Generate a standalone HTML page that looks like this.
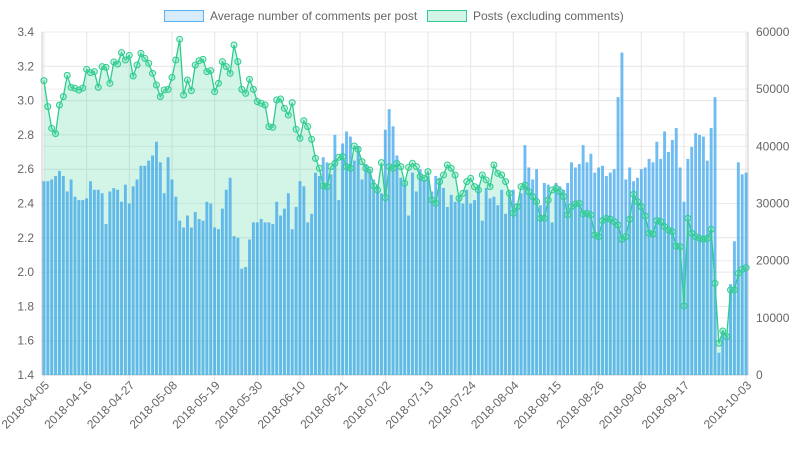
<!DOCTYPE html>
<html><head><meta charset="utf-8"><style>
html,body{margin:0;padding:0;background:#fff;width:798px;height:450px;overflow:hidden}
svg{display:block;font-family:"Liberation Sans",sans-serif}
</style></head><body>
<svg id="chart" width="798" height="450" viewBox="0 0 798 450"></svg>
<script>
const startDate = "2018-04-05";
const avgComments = [2.53,2.53,2.54,2.56,2.59,2.56,2.47,2.54,2.44,2.42,2.42,2.43,2.53,2.48,2.48,2.46,2.28,2.47,2.49,2.48,2.41,2.51,2.40,2.50,2.54,2.62,2.62,2.65,2.68,2.76,2.64,2.46,2.67,2.54,2.44,2.30,2.26,2.33,2.26,2.35,2.31,2.30,2.41,2.40,2.26,2.25,
2.37,2.48,2.55,2.21,2.20,2.02,2.03,2.19,2.29,2.29,2.31,2.29,2.29,2.28,2.41,2.33,2.37,2.46,2.25,2.38,2.53,2.50,2.29,2.34,2.58,2.56,2.67,2.64,2.57,2.80,2.42,2.75,2.82,2.79,2.65,2.73,2.54,2.63,2.60,2.54,2.51,2.46,2.83,2.95,
2.85,2.68,2.55,2.52,2.33,2.58,2.47,2.60,2.54,2.56,2.47,2.56,2.55,2.49,2.38,2.45,2.41,2.44,2.40,2.48,2.40,2.42,2.51,2.30,2.49,2.43,2.44,2.39,2.48,2.34,2.47,2.48,2.40,2.46,2.74,2.61,2.54,2.60,2.39,2.52,2.51,2.29,2.52,2.50,2.48,
2.52,2.64,2.61,2.63,2.74,2.64,2.69,2.58,2.61,2.62,2.56,2.58,2.60,3.02,3.28,2.54,2.61,2.53,2.55,2.60,2.61,2.66,2.64,2.76,2.66,2.82,2.70,2.77,2.84,2.61,2.41,2.66,2.73,2.81,2.80,2.79,2.65,2.84,3.02,1.53,1.66,1.63,1.93,2.18,2.64,2.57,2.58];
const postCounts = [51490,46940,43150,42220,47230,48690,52420,50320,50150,49860,50210,53470,52890,53060,50320,53940,53820,51020,54750,54400,56390,55100,55920,52300,54230,56270,55390,54520,52770,50730,48690,49860,49970,52070,55100,58720,48980,51610,49740,54230,54980,55220,53060,53240,49560,51020,
54810,53940,52770,57730,54810,49970,49270,51720,49970,47820,47530,47230,43440,43330,48110,48280,46650,45480,47640,42980,41400,44490,43440,41230,37900,36160,33070,32950,36450,37030,38080,38200,36450,36160,40060,39480,37320,36160,35860,33070,32370,37150,31030,36450,36160,37000,
36450,33530,36330,37030,36450,34700,34410,35570,30620,30030,33820,34990,36740,36160,34990,30910,31780,33820,34410,32950,32370,34990,34120,32950,36740,35280,34990,33820,31780,28290,29450,32950,33240,32080,31200,30330,27410,27410,30620,32370,32660,32080,31200,
28000,29450,29920,30030,28170,28290,28000,24500,24210,27000,27410,27240,26830,26240,23740,24210,27240,31610,30330,29450,27820,24790,24670,27000,26830,25950,25370,25080,22570,22460,12080,27410,24790,24210,23910,23740,23910,25490,16040,5550,7700,6710,14880,14880,17790,18490,18780];
const leftTicks = [1.4,1.6,1.8,2.0,2.2,2.4,2.6,2.8,3.0,3.2,3.4];
const rightTicks = [0,10000,20000,30000,40000,50000,60000];
const labelIdx = [0,11,22,33,44,55,66,77,88,99,110,121,132,143,154,165];

const svg = document.getElementById('chart');
const NS = 'http://www.w3.org/2000/svg';
const L = 42, R = 748, T = 32, B = 375;
const n = avgComments.length;
const step = (R - L) / n;
const xC = i => L + (i + 0.5) * step;
const yL = v => B - (v - 1.4) / 2.0 * (B - T);
const yR = v => B - v / 60000 * (B - T);
function mk(tag, attrs, parent) {
  const e = document.createElementNS(NS, tag);
  for (const k in attrs) e.setAttribute(k, attrs[k]);
  (parent || svg).appendChild(e);
  return e;
}
function dateLabel(i) {
  const d = new Date(startDate + 'T00:00:00Z');
  d.setUTCDate(d.getUTCDate() + i);
  return d.toISOString().slice(0, 10);
}
const grid = mk('g', {});


leftTicks.forEach(t => mk('line', {x1:L, x2:R, y1:yL(t), y2:yL(t), stroke:'#e6e6e6', 'stroke-width':1}, grid));
rightTicks.forEach(t => mk('line', {x1:L, x2:R, y1:yR(t), y2:yR(t), stroke:'#ececec', 'stroke-width':1}, grid));
const xs = labelIdx.concat([n - 1]);
xs.forEach(i => mk('line', {x1:xC(i), x2:xC(i), y1:T, y2:B + 5, stroke:'#e6e6e6', 'stroke-width':1}, grid));
mk('line', {x1:L, x2:L, y1:T, y2:B, stroke:'#ccc'}, grid);
mk('line', {x1:R, x2:R, y1:T, y2:B, stroke:'#ccc'}, grid);
mk('line', {x1:L, x2:R, y1:B, y2:B, stroke:'#ccc'}, grid);
let d = 'M' + xC(0) + ',' + B;
postCounts.forEach((v, i) => { d += ' L' + xC(i) + ',' + yR(v); });
d += ' L' + xC(n - 1) + ',' + B + ' Z';
const area = mk('path', {d:d, fill:'rgba(75,215,160,0.25)', stroke:'none'});


const bars = mk('g', {});


const bw = step * 0.75;
avgComments.forEach((v, i) => {
  const r = mk('rect', {x:xC(i) - bw / 2, y:yL(v), width:bw, height:B - yL(v), fill:'rgba(54,162,235,0.72)'}, bars);
  
  
});
const lineG = mk('g', {});


mk('polyline', {points:postCounts.map((v, i) => xC(i) + ',' + yR(v)).join(' '), fill:'none', stroke:'#2ecc8e', 'stroke-width':1.3}, lineG);
postCounts.forEach((v, i) => {
  const c = mk('circle', {cx:xC(i), cy:yR(v), r:3, fill:'rgba(75,215,160,0.3)', stroke:'#2ecc8e', 'stroke-width':1}, lineG);
  
  
});
const ax = mk('g', {'font-size':12, fill:'#666'});


leftTicks.forEach(t => { const e = mk('text', {x:L - 8, y:yL(t) + 4, 'text-anchor':'end'}, ax); e.textContent = t.toFixed(1); });
rightTicks.forEach(t => { const e = mk('text', {x:R + 8, y:yR(t) + 4, 'text-anchor':'start'}, ax); e.textContent = t; });
xs.forEach(i => {
  const x = xC(i) + 6, y = B + 11;
  const e = mk('text', {x:x, y:y, 'text-anchor':'end', transform:'rotate(-45 ' + x + ' ' + y + ')'}, ax);
  e.textContent = dateLabel(i);
});
</script>
<div style="position:absolute;left:0;top:0;width:798px;height:30px;font:12px 'Liberation Sans',sans-serif;color:#666">
  <div style="position:absolute;left:164px;top:9px;white-space:nowrap">
    <span style="display:inline-block;width:38px;height:10px;background:rgba(54,162,235,0.2);border:1px solid rgba(54,162,235,0.8);vertical-align:-2px;margin-right:6px"></span>Average number of comments per post</div>
  <div style="position:absolute;left:427px;top:9px;white-space:nowrap">
    <span style="display:inline-block;width:38px;height:10px;background:rgba(75,215,160,0.25);border:1px solid #2ecc8e;vertical-align:-2px;margin-right:6px"></span>Posts (excluding comments)</div>
</div>
</body></html>
